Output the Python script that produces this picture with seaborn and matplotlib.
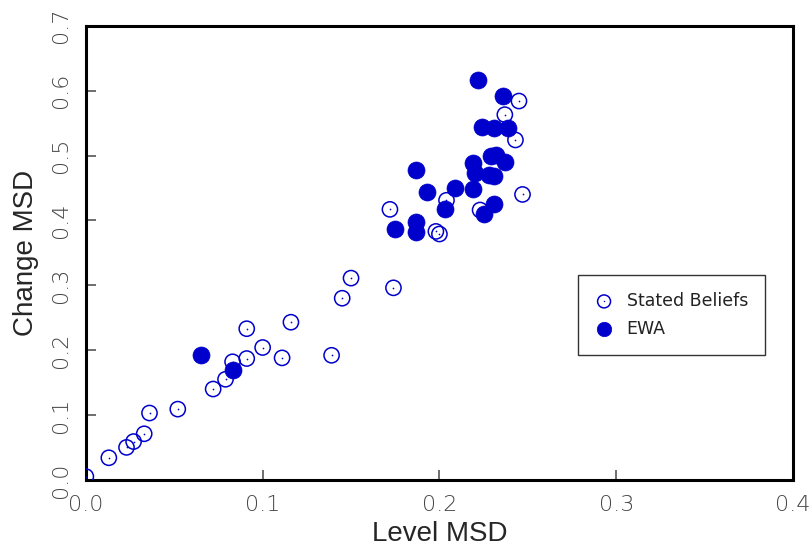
import matplotlib
matplotlib.use("Agg")
import matplotlib.pyplot as plt
import seaborn as sns
import pandas as pd

# Stated Beliefs (open circles)
belief_level = [0.000, 0.013, 0.023, 0.027, 0.033, 0.036, 0.052, 0.072, 0.079, 0.083,
                0.091, 0.091, 0.100, 0.111, 0.116, 0.139, 0.145, 0.150, 0.172, 0.174,
                0.245, 0.237, 0.243, 0.204, 0.247, 0.223, 0.198, 0.200]
belief_change = [0.005, 0.034, 0.050, 0.059, 0.071, 0.103, 0.109, 0.140, 0.155, 0.182,
                 0.187, 0.233, 0.204, 0.188, 0.243, 0.192, 0.280, 0.311, 0.417, 0.296,
                 0.584, 0.563, 0.524, 0.431, 0.440, 0.416, 0.383, 0.379]

# EWA (filled circles)
ewa_level = [0.222, 0.236, 0.224, 0.231, 0.239, 0.229, 0.232, 0.237, 0.219, 0.220,
             0.228, 0.231, 0.187, 0.209, 0.219, 0.193, 0.231, 0.225, 0.203, 0.175,
             0.187, 0.187, 0.065, 0.083]
ewa_change = [0.617, 0.592, 0.544, 0.543, 0.542, 0.499, 0.501, 0.490, 0.489, 0.473,
              0.470, 0.469, 0.478, 0.450, 0.448, 0.444, 0.425, 0.410, 0.418, 0.387,
              0.398, 0.382, 0.193, 0.170]

beliefs = pd.DataFrame({"level": belief_level, "change": belief_change})
ewa = pd.DataFrame({"level": ewa_level, "change": ewa_change})

sns.set_style("white")
plt.rcParams['font.family'] = ['Liberation Sans', 'DejaVu Sans']

blue = '#0000cc'
fig = plt.figure(figsize=(8.1, 5.49), dpi=100)
ax = fig.add_axes([0.106, 0.126, 0.873, 0.827])

sns.scatterplot(data=beliefs, x="level", y="change", ax=ax, s=120,
                facecolor='none', edgecolor=blue, linewidth=1.1, zorder=3)
sns.scatterplot(data=beliefs, x="level", y="change", ax=ax, s=1.5,
                color=blue, linewidth=0, zorder=3)
sns.scatterplot(data=ewa, x="level", y="change", ax=ax, s=150,
                color=blue, edgecolor=blue, linewidth=0.5, zorder=4)

ax.set_xlim(0, 0.4)
ax.set_ylim(0, 0.7)
ax.set_xticks([0.0, 0.1, 0.2, 0.3, 0.4])
ax.set_yticks([0.0, 0.1, 0.2, 0.3, 0.4, 0.5, 0.6, 0.7])
ax.set_xticklabels(['0.0', '0.1', '0.2', '0.3', '0.4'])
ax.set_yticklabels(['0.0', '0.1', '0.2', '0.3', '0.4', '0.5', '0.6', '0.7'],
                   rotation=90, va='center')
ax.tick_params(direction='in', length=7, width=1.2, color='#555555',
               labelcolor='#444444', labelsize=16, bottom=True, left=True,
               top=False, right=False)
ax.tick_params(axis='x', pad=11)
ax.tick_params(axis='y', pad=11)
for lab in ax.get_xticklabels() + ax.get_yticklabels():
    lab.set_fontfamily('DejaVu Sans')
    lab.set_fontweight('light')

for side in ['left', 'bottom', 'top', 'right']:
    ax.spines[side].set_visible(True)
    ax.spines[side].set_color('black')
    ax.spines[side].set_linewidth(2.2)

ax.set_xlabel('Level MSD', fontsize=20, labelpad=4)
ax.set_ylabel('Change MSD', fontsize=20, labelpad=8)

cols = ax.collections
leg = ax.legend([(cols[0], cols[1]), cols[2]], ['Stated Beliefs', 'EWA'],
                loc='upper left', bbox_to_anchor=(0.696, 0.452),
                frameon=True, fancybox=False, edgecolor='black',
                fontsize=12.5, handlelength=1.0, handletextpad=0.8,
                borderpad=1.0, labelspacing=0.55, markerscale=0.85,
                borderaxespad=0)
leg.get_frame().set_linewidth(1.0)
for t in leg.get_texts():
    t.set_fontfamily('DejaVu Sans')
    t.set_color('#222222')

fig.savefig('out.png', dpi=100)
